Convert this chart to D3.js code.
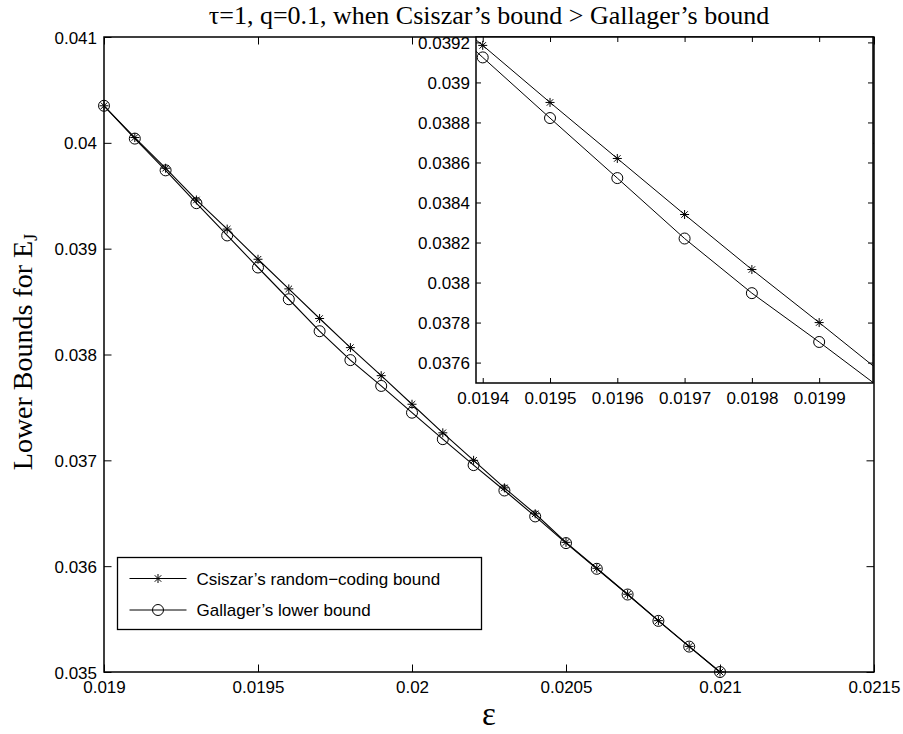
<!DOCTYPE html>
<html>
<head>
<meta charset="utf-8">
<script src="https://cdn.jsdelivr.net/npm/d3@7"></script>
<style>
  html, body { margin: 0; padding: 0; background: #fff; }
  svg { display: block; }
  .tick-label { font-family: "Liberation Sans", Arial, Helvetica, sans-serif; font-size: 17px; fill: #000; }
  .serif { font-family: "Liberation Serif", "Times New Roman", Times, serif; fill: #000; }
</style>
</head>
<body>
<svg id="chart" width="903" height="734"></svg>
<script>
// crossover probability ε
const epsilon = [0.0190, 0.0191, 0.0192, 0.0193, 0.0194, 0.0195, 0.0196, 0.0197, 0.0198, 0.0199,
                 0.0200, 0.0201, 0.0202, 0.0203, 0.0204, 0.0205, 0.0206, 0.0207, 0.0208, 0.0209, 0.0210];

// Csiszar's random-coding bound
const csiszar = [0.04035, 0.04005, 0.03976, 0.03946, 0.039185, 0.0389, 0.03862, 0.03834, 0.038065, 0.0378,
                 0.03753, 0.03726, 0.0370, 0.03674, 0.036495, 0.036225, 0.03598, 0.035735, 0.035485, 0.035242, 0.0350];

// Gallager's lower bound
const gallager = [0.04035, 0.04004, 0.03974, 0.03943, 0.039125, 0.038822, 0.038522, 0.03822, 0.037947, 0.037703,
                  0.03745, 0.0372, 0.036955, 0.036715, 0.03647, 0.036218, 0.035975, 0.035732, 0.035483, 0.03524, 0.0350];

// main axes ticks
const mainXTicks = [0.019, 0.0195, 0.02, 0.0205, 0.021, 0.0215];
const mainXLabels = ["0.019", "0.0195", "0.02", "0.0205", "0.021", "0.0215"];
const mainYTicks = [0.035, 0.036, 0.037, 0.038, 0.039, 0.040, 0.041];
const mainYLabels = ["0.035", "0.036", "0.037", "0.038", "0.039", "0.04", "0.041"];

// zoomed panel ticks
const insetXTicks = [0.0194, 0.0195, 0.0196, 0.0197, 0.0198, 0.0199];
const insetXLabels = ["0.0194", "0.0195", "0.0196", "0.0197", "0.0198", "0.0199"];
const insetYTicks = [0.0376, 0.0378, 0.0380, 0.0382, 0.0384, 0.0386, 0.0388, 0.0390, 0.0392];
const insetYLabels = ["0.0376", "0.0378", "0.038", "0.0382", "0.0384", "0.0386", "0.0388", "0.039", "0.0392"];

const seriesNames = ["Csiszar\u2019s random\u2212coding bound", "Gallager\u2019s lower bound"];

const svg = d3.select("#chart");

const series = [
  { name: seriesNames[0], values: csiszar, marker: "star" },
  { name: seriesNames[1], values: gallager, marker: "circle" }
];

function starPath(h) {
  const d = h * 0.72;
  return `M${-h},0H${h}M0,${-h}V${h}M${-d},${-d}L${d},${d}M${-d},${d}L${d},${-d}`;
}

function drawMarker(g, type, size) {
  if (type === "star") {
    g.append("path").attr("d", starPath(size)).attr("fill", "none")
      .attr("stroke", "#000").attr("stroke-width", 1);
  } else {
    g.append("circle").attr("r", size + 1).attr("fill", "none")
      .attr("stroke", "#000").attr("stroke-width", 1);
  }
}

// draws a framed axes box with inward ticks on all four sides
function drawAxes(g, x, y, xTicks, xLabels, yTicks, yLabels, tickLen, xLabelY, yLabelGap) {
  const [x0, x1] = x.range();
  const [y0, y1] = y.range(); // y0 = bottom, y1 = top

  const xAxisB = d3.axisBottom(x).tickValues(xTicks).tickSize(0).tickFormat((d, i) => xLabels[i]);
  const xAxisT = d3.axisTop(x).tickValues(xTicks).tickSize(0).tickFormat("");
  const yAxisL = d3.axisLeft(y).tickValues(yTicks).tickSize(0).tickFormat((d, i) => yLabels[i]);
  const yAxisR = d3.axisRight(y).tickValues(yTicks).tickSize(0).tickFormat("");

  const gb = g.append("g").attr("transform", `translate(0,${y0})`).call(xAxisB);
  gb.selectAll(".tick line").remove();
  gb.selectAll(".tick").append("line").attr("y1", 0).attr("y2", -tickLen);
  gb.selectAll(".tick text").attr("class", "tick-label").attr("y", xLabelY).attr("dy", 0);

  const gt = g.append("g").attr("transform", `translate(0,${y1})`).call(xAxisT);
  gt.selectAll(".tick line").remove();
  gt.selectAll(".tick").append("line").attr("y1", 0).attr("y2", tickLen);

  const gl = g.append("g").attr("transform", `translate(${x0},0)`).call(yAxisL);
  gl.selectAll(".tick line").remove();
  gl.selectAll(".tick").append("line").attr("x1", 0).attr("x2", tickLen);
  gl.selectAll(".tick text").attr("class", "tick-label").attr("x", -yLabelGap).attr("dy", "0.36em");

  const gr = g.append("g").attr("transform", `translate(${x1},0)`).call(yAxisR);
  gr.selectAll(".tick line").remove();
  gr.selectAll(".tick").append("line").attr("x1", 0).attr("x2", -tickLen);

  g.selectAll(".domain").remove();
  g.selectAll(".tick line").attr("stroke", "#000").attr("stroke-width", 1);

  g.append("rect")
    .attr("x", x0).attr("y", y1)
    .attr("width", x1 - x0).attr("height", y0 - y1)
    .attr("fill", "none").attr("stroke", "#000").attr("stroke-width", 1.5);
}

// ---------- main axes ----------
const x = d3.scaleLinear().domain([0.019, 0.0215]).range([104, 874]);
const y = d3.scaleLinear().domain([0.035, 0.041]).range([672, 37]);

const main = svg.append("g");
main.append("rect").attr("x", 104).attr("y", 37).attr("width", 770).attr("height", 635).attr("fill", "#fff");

const line = d3.line().x((d, i) => x(epsilon[i])).y(d => y(d));

series.forEach(s => {
  main.append("path").datum(s.values).attr("d", line)
    .attr("fill", "none").attr("stroke", "#000").attr("stroke-width", 1.1);
});
series.forEach(s => {
  s.values.forEach((v, i) => {
    const m = main.append("g").attr("transform", `translate(${x(epsilon[i])},${y(v)})`);
    drawMarker(m, s.marker, 4.5);
  });
});

drawAxes(main, x, y, mainXTicks, mainXLabels, mainYTicks, mainYLabels, 7.5, 21, 7);

// legend
const legend = svg.append("g");
legend.append("rect").attr("x", 117.5).attr("y", 557.5).attr("width", 364).attr("height", 72)
  .attr("fill", "#fff").attr("stroke", "#000").attr("stroke-width", 1.3);
const legendRows = [578.5, 610];
series.forEach((s, i) => {
  const ly = legendRows[i];
  legend.append("line").attr("x1", 129.5).attr("x2", 186.5).attr("y1", ly).attr("y2", ly)
    .attr("stroke", "#000").attr("stroke-width", 1);
  const m = legend.append("g").attr("transform", `translate(158,${ly})`);
  drawMarker(m, s.marker, 4.5);
  legend.append("text").attr("class", "tick-label").attr("x", 196.5).attr("y", ly).attr("dy", "0.36em")
    .text(s.name);
});

// ---------- zoomed panel ----------
const xi = d3.scaleLinear().domain([0.01939, 0.01998]).range([476, 873]);
const yi = d3.scaleLinear().domain([0.037498, 0.039227]).range([383, 37]);

const inset = svg.append("g");
inset.append("rect").attr("x", 476).attr("y", 37).attr("width", 397).attr("height", 346).attr("fill", "#fff");

svg.append("defs").append("clipPath").attr("id", "inset-clip")
  .append("rect").attr("x", 476).attr("y", 37).attr("width", 397).attr("height", 346);

const insetPlot = inset.append("g").attr("clip-path", "url(#inset-clip)");
const lineI = d3.line().x((d, i) => xi(epsilon[i])).y(d => yi(d));
series.forEach(s => {
  insetPlot.append("path").datum(s.values).attr("d", lineI)
    .attr("fill", "none").attr("stroke", "#000").attr("stroke-width", 1);
  s.values.forEach((v, i) => {
    const m = insetPlot.append("g").attr("transform", `translate(${xi(epsilon[i])},${yi(v)})`);
    drawMarker(m, s.marker, 4.5);
  });
});

drawAxes(inset, xi, yi, insetXTicks, insetXLabels, insetYTicks, insetYLabels, 5, 21, 6);

// ---------- titles ----------
svg.append("text").attr("class", "serif")
  .attr("x", 489).attr("y", 23.5).attr("text-anchor", "middle")
  .style("font-size", "26px")
  .text("\u03c4=1, q=0.1, when Csiszar\u2019s bound > Gallager\u2019s bound");

svg.append("text").attr("class", "serif")
  .attr("x", 489).attr("y", 725).attr("text-anchor", "middle")
  .style("font-size", "33px")
  .text("\u03b5");

const yl = svg.append("text").attr("class", "serif")
  .attr("transform", "translate(32,352) rotate(-90)")
  .attr("text-anchor", "middle")
  .style("font-size", "28px");
yl.append("tspan").text("Lower Bounds for E");
yl.append("tspan").attr("dy", 5).style("font-size", "18px").text("J");
</script>
</body>
</html>
